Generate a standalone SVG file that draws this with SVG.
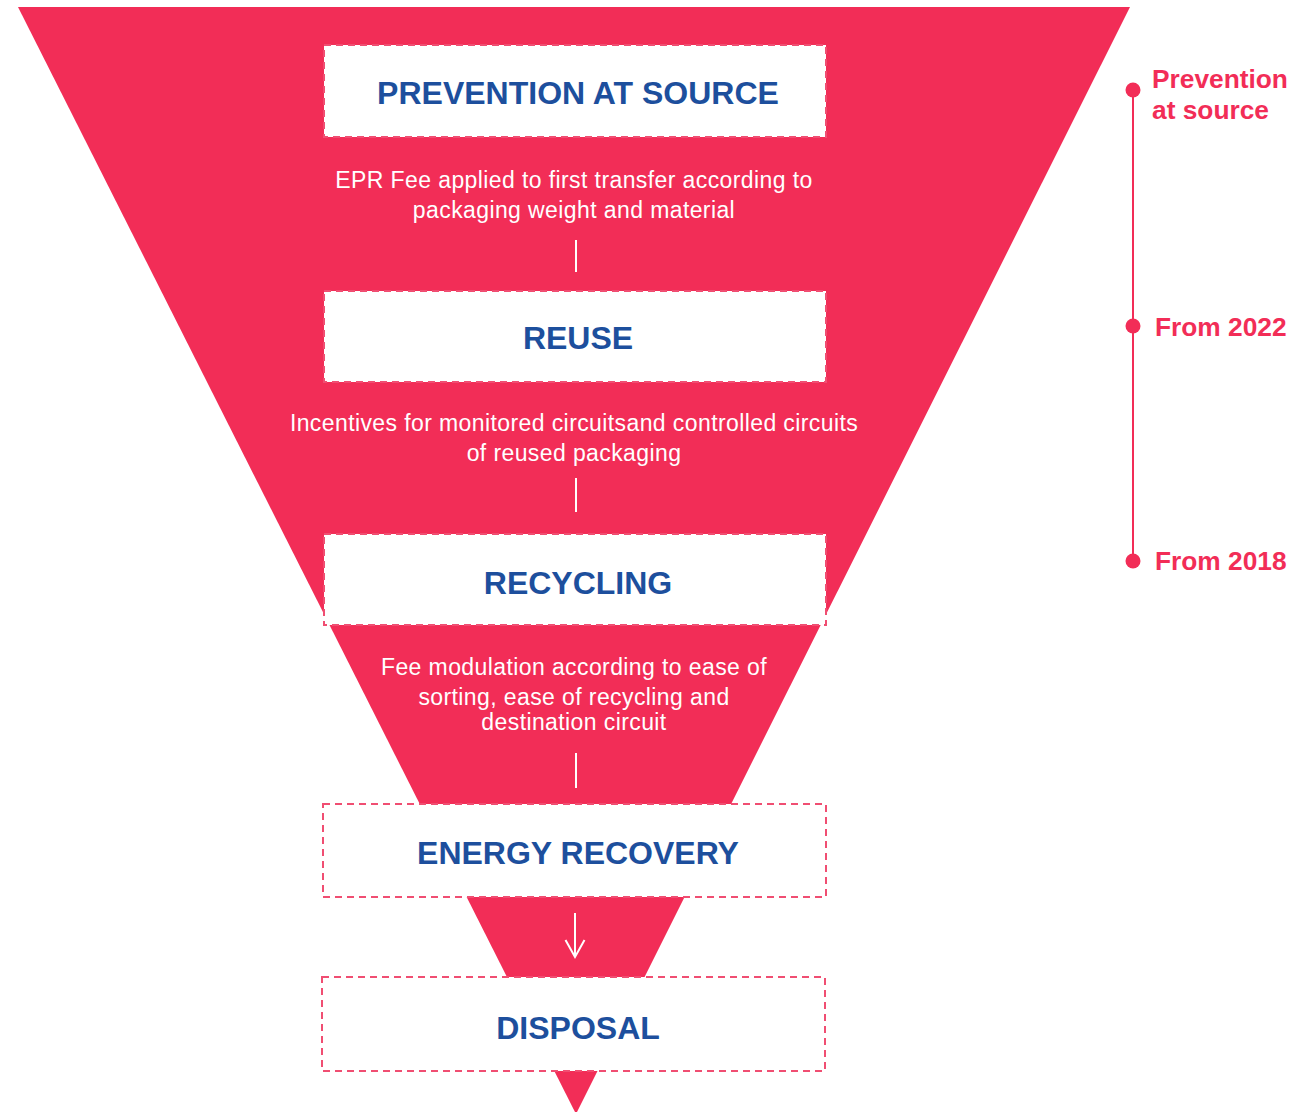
<svg xmlns="http://www.w3.org/2000/svg" width="1314" height="1112" viewBox="0 0 1314 1112">
<defs>
<style>
.box{fill:#ffffff;stroke:#f04e72;stroke-width:2;stroke-dasharray:7 5}
.title{font-family:"Liberation Sans",Arial,sans-serif;font-weight:bold;font-size:32px;fill:#1d4f9d;text-anchor:middle}
.desc{font-family:"Liberation Sans",Arial,sans-serif;font-size:23px;letter-spacing:0.4px;fill:#ffffff;text-anchor:middle}
.tl{font-family:"Liberation Sans",Arial,sans-serif;font-weight:bold;font-size:26.3px;fill:#f22d57}
.conn{stroke:#ffffff;stroke-width:2;fill:none}
</style>
</defs>
<rect width="1314" height="1112" fill="#ffffff"/>
<polygon id="funnel" points="18,7 1130,7 576,1114" fill="#f22d57"/>

<g id="connectors">
<line class="conn" x1="576" y1="240" x2="576" y2="272"/>
<line class="conn" x1="576" y1="478" x2="576" y2="512"/>
<line class="conn" x1="576" y1="753" x2="576" y2="788"/>
<line class="conn" x1="575" y1="913" x2="575" y2="956"/>
<polyline class="conn" points="565.5,940 575,957 584.5,940"/>
</g>

<g id="prevention">
<rect class="box" x="324" y="45" width="502" height="92"/>
<text class="title" x="578" y="104">PREVENTION AT SOURCE</text>
</g>
<g id="prevention-desc">
<text class="desc" x="574" y="188">EPR Fee applied to first transfer according to</text>
<text class="desc" x="574" y="218">packaging weight and material</text>
</g>

<g id="reuse">
<rect class="box" x="324" y="291" width="502" height="91"/>
<text class="title" x="578" y="349">REUSE</text>
</g>
<g id="reuse-desc">
<text class="desc" x="574" y="431">Incentives for monitored circuitsand controlled circuits</text>
<text class="desc" x="574" y="461">of reused packaging</text>
</g>

<g id="recycling">
<rect class="box" x="324" y="534" width="502" height="91"/>
<text class="title" x="578" y="594">RECYCLING</text>
</g>
<g id="recycling-desc">
<text class="desc" x="574" y="675">Fee modulation according to ease of</text>
<text class="desc" x="574" y="705">sorting, ease of recycling and</text>
<text class="desc" x="574" y="730">destination circuit</text>
</g>

<g id="energy">
<rect class="box" x="323" y="804" width="503" height="93"/>
<text class="title" x="578" y="864">ENERGY RECOVERY</text>
</g>

<g id="disposal">
<rect class="box" x="322" y="977" width="503" height="94"/>
<text class="title" x="578" y="1039">DISPOSAL</text>
</g>

<g id="timeline">
<line x1="1133" y1="90" x2="1133" y2="561" stroke="#f22d57" stroke-width="2"/>
<circle cx="1133" cy="90" r="7.5" fill="#f22d57"/>
<circle cx="1133" cy="326" r="7.5" fill="#f22d57"/>
<circle cx="1133" cy="561" r="7.5" fill="#f22d57"/>
<text class="tl" x="1152" y="88">Prevention</text>
<text class="tl" x="1152" y="119">at source</text>
<text class="tl" x="1155" y="336">From 2022</text>
<text class="tl" x="1155" y="570">From 2018</text>
</g>
</svg>
